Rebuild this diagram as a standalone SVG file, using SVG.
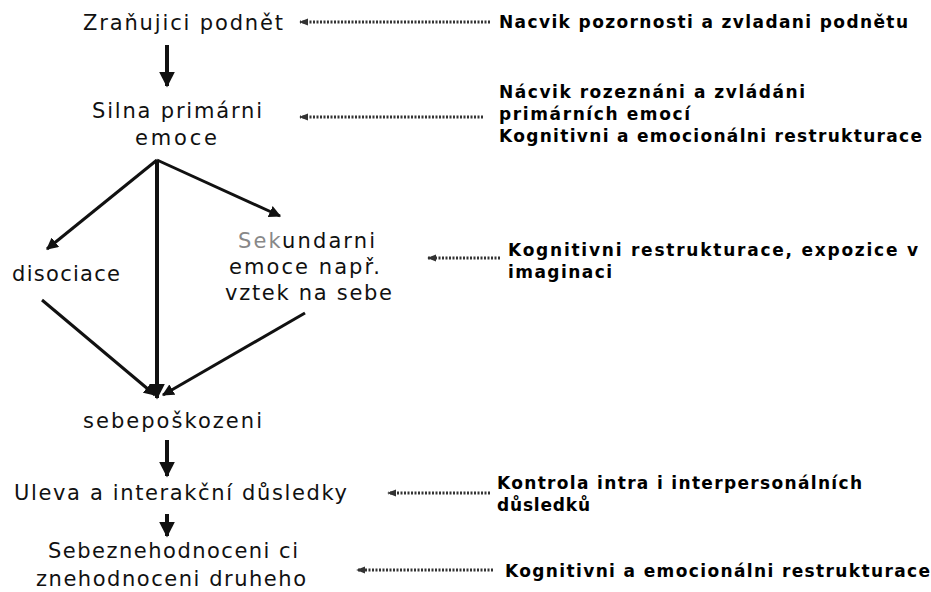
<svg xmlns="http://www.w3.org/2000/svg" width="931" height="592" viewBox="0 0 931 592">
<defs>
<style>
.n{font-family:"DejaVu Sans",sans-serif;font-size:21px;fill:#111}
.r{font-family:"DejaVu Sans",sans-serif;font-weight:bold;font-size:17px;fill:#000}
.s{stroke:#111;stroke-width:3;fill:none}
.v{stroke:#111;stroke-width:4;fill:none}
.d{stroke:#333;stroke-width:3;stroke-dasharray:2 1.5;fill:none}
</style>
<marker id="ah" viewBox="0 0 10 10" refX="9" refY="5" markerWidth="4" markerHeight="4" orient="auto" markerUnits="strokeWidth"><path d="M0,0 L10,5 L0,10 Z" fill="#111"/></marker>
<marker id="dh" viewBox="0 0 10 10" refX="9" refY="5" markerWidth="3" markerHeight="3" orient="auto" markerUnits="strokeWidth"><path d="M0,1 L10,5 L0,9 Z" fill="#333"/></marker>
</defs>
<rect width="931" height="592" fill="#fff"/>
<g id="connectors">
<line class="v" x1="167" y1="45" x2="167" y2="86" marker-end="url(#ah)"/>
<line class="s" x1="157" y1="160" x2="47" y2="249" marker-end="url(#ah)"/>
<line class="s" x1="157" y1="160" x2="280" y2="216" marker-end="url(#ah)"/>
<line class="v" x1="157" y1="160" x2="157" y2="398" marker-end="url(#ah)"/>
<line class="s" x1="42" y1="300" x2="155" y2="395" marker-end="url(#ah)"/>
<line class="s" x1="305" y1="313" x2="163" y2="395" marker-end="url(#ah)"/>
<line class="v" x1="167" y1="440" x2="167" y2="476" marker-end="url(#ah)"/>
<line class="v" x1="167" y1="514" x2="167" y2="536" marker-end="url(#ah)"/>
<line class="d" x1="490" y1="22" x2="300" y2="22" marker-end="url(#dh)"/>
<line class="d" x1="483" y1="117" x2="300" y2="117" marker-end="url(#dh)"/>
<line class="d" x1="500" y1="258" x2="428" y2="258" marker-end="url(#dh)"/>
<line class="d" x1="490" y1="493" x2="388" y2="493" marker-end="url(#dh)"/>
<line class="d" x1="493" y1="570" x2="357" y2="570" marker-end="url(#dh)"/>
</g>
<g id="n1"><text class="n" x="83" y="30" textLength="200">Zraňujici podnět</text></g>
<g id="n2"><text class="n" x="92" y="118" textLength="170">Silna primárni</text><text class="n" x="135" y="145" textLength="82">emoce</text></g>
<g id="n3"><text class="n" x="12" y="281" textLength="108">disociace</text></g>
<g id="n4"><text class="n" x="238" y="248" textLength="137"><tspan fill="#888">Sek</tspan>undarni</text><text class="n" x="229" y="274" textLength="151">emoce např.</text><text class="n" x="225" y="300" textLength="167">vztek na sebe</text></g>
<g id="n5"><text class="n" x="83" y="428" textLength="179">sebepoškozeni</text></g>
<g id="n6"><text class="n" x="14" y="500" textLength="333">Uleva a interakční důsledky</text></g>
<g id="n7"><text class="n" x="48" y="558" textLength="250">Sebeznehodnoceni ci</text><text class="n" x="36" y="586" textLength="270">znehodnoceni druheho</text></g>
<g id="r1"><text class="r" x="499" y="28" textLength="409">Nacvik pozornosti a zvladani podnětu</text></g>
<g id="r2"><text class="r" x="499" y="98" textLength="306">Nácvik rozeznáni a zvládáni</text><text class="r" x="499" y="120" textLength="191">primárních emocí</text><text class="r" x="499" y="142" textLength="423">Kognitivni a emocionálni restrukturace</text></g>
<g id="r3"><text class="r" x="508" y="256" textLength="410">Kognitivni restrukturace, expozice v</text><text class="r" x="508" y="278" textLength="104">imaginaci</text></g>
<g id="r4"><text class="r" x="497" y="489" textLength="365">Kontrola intra i interpersonálních</text><text class="r" x="497" y="511" textLength="93">důsledků</text></g>
<g id="r5"><text class="r" x="505" y="577" textLength="425">Kognitivni a emocionálni restrukturace</text></g>
</svg>
